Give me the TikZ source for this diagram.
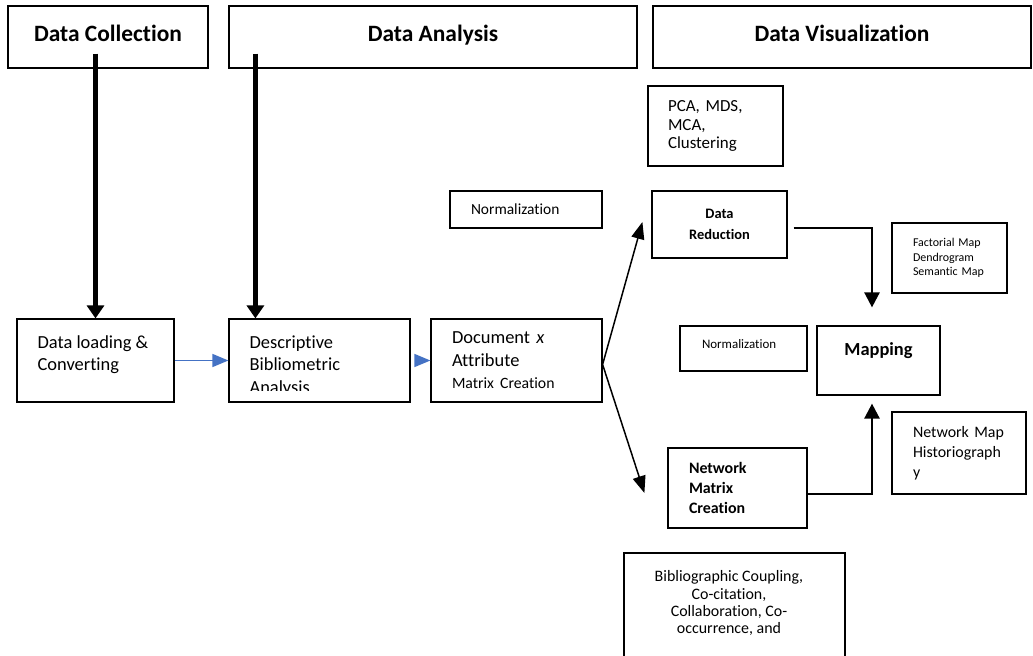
\documentclass[tikz,border=0pt]{standalone}
\usepackage{fontspec}
\setmainfont{Carlito}[Ligatures={NoCommon,NoRare,NoContextual}]
\usetikzlibrary{arrows.meta}
\definecolor{wordblue}{HTML}{4472C4}
\frenchspacing

\begin{document}
\begin{tikzpicture}[x=1bp, y=-1bp,
    box/.style={draw, line width=1.2bp, inner sep=0pt},
    head/.style={box, font=\fontsize{23.5}{28}\selectfont\bfseries, minimum height=62bp, text depth=8bp},
    big/.style={font=\fontsize{18.5}{22.5}\selectfont},
    bigarrow/.style={line width=5bp, -{Triangle[width=17bp,length=13bp]}},
    bluearrow/.style={wordblue, line width=1.5bp, -{Triangle[width=13bp,length=16bp]}},
    thinarrow/.style={line width=1.5bp, -{Triangle[width=13bp,length=17bp]}},
    maparrow/.style={line width=2.5bp, -{Triangle[width=15bp,length=15bp]}}]

% page area
\useasboundingbox (0,0) rectangle (1033,656);
\clip (0,0) rectangle (1033,656);

% stage headings
\node[head, minimum width=200bp] (collect) at (108,37) {Data Collection};
\node[head, minimum width=408bp] (analysis) at (433,37) {Data Analysis};
\node[head, minimum width=378bp] (visual) at (842,37) {Data Visualization};

% collection and analysis boxes
\node[box, minimum width=157bp, minimum height=83bp] (load) at (95.5,360.5) {};
\node[big, align=left, anchor=north west, inner sep=0pt] at ([shift={(21,17)}]load.north west) {Data loading \&\\Converting};

\node[box, minimum width=181bp, minimum height=83bp] (desc) at (319.5,360.5) {};
\begin{scope}
  \clip ([shift={(1,1)}]desc.north west) rectangle ([shift={(-1,-12)}]desc.south east);
  \node[big, align=left, anchor=north west, inner sep=0pt] at ([shift={(21,17)}]desc.north west) {Descriptive\\Bibliometric\\Analysis};
\end{scope}

\node[box, big, align=left, text width=129bp, minimum width=171bp, minimum height=83bp] (doc) at (516.5,360.5) {Document \textit{x}\\Attribute\\{\fontsize{15.8}{22}\selectfont Matrix Creation}};
\node[box, font=\fontsize{15.5}{19}\selectfont, align=left, text width=110bp, minimum width=152bp, minimum height=37bp] (norma) at (526,209.5) {Normalization};

% visualization boxes
\node[box, font=\fontsize{17}{18.5}\selectfont, align=left, text width=95bp, minimum width=135bp, minimum height=80bp] (pca) at (715.5,126) {PCA, MDS,\\MCA,\\Clustering};
\node[box, font=\fontsize{14.5}{21}\selectfont\bfseries, align=center, minimum width=135bp, minimum height=67bp] (dr) at (719.5,224.5) {Data\\Reduction};
\node[box, font=\fontsize{12}{14.5}\selectfont, align=left, text width=73bp, minimum width=115bp, minimum height=70bp] (facto) at (949.5,258) {Factorial Map\\Dendrogram\\Semantic Map};
\node[box, font=\fontsize{13}{16}\selectfont, text width=83bp, minimum width=127bp, minimum height=45bp, text depth=9bp] (normb) at (743.5,348.5) {Normalization};
\node[box, font=\fontsize{18.5}{22}\selectfont\bfseries, minimum width=123bp, minimum height=69bp, text depth=22bp] (map) at (878.5,360.5) {Mapping};
\node[box, font=\fontsize{16}{20}\selectfont, align=left, text width=92bp, minimum width=134bp, minimum height=82bp] (netmap) at (959,453) {Network Map\\Historiograph\\y};
\node[box, font=\fontsize{16}{20}\selectfont\bfseries, align=left, text width=97bp, minimum width=139bp, minimum height=80bp] (nmc) at (737.5,488) {Network\\Matrix\\Creation};

\node[box, minimum width=221bp, minimum height=127bp] (biblio) at (734.5,616.5) {};
\node[font=\fontsize{16}{17.5}\selectfont, align=center, anchor=north, inner sep=0pt] at ([shift={(-5.5,18)}]biblio.north) {Bibliographic Coupling,\\Co-citation,\\Collaboration, Co-\\occurrence, and};

% heavy arrows from the headings
\coordinate (descin) at ([xshift=27bp]desc.north west);
\draw[bigarrow] ([yshift=15bp]collect.south -| load.north) -- (load.north);
\draw[bigarrow] ([yshift=15bp]analysis.south -| descin) -- (descin);

% flow
\draw[bluearrow] (load) -- (desc);
\draw[bluearrow, shorten <=5bp] (desc) -- (doc);
\draw[thinarrow] ([yshift=-4bp]doc.east) -- ([shift={(-9,-2.5)}]dr.west);
\draw[thinarrow] ([yshift=-4bp]doc.east) -- ([shift={(-23,5)}]nmc.west);
\draw[maparrow, shorten <=6bp, shorten >=18bp] ([yshift=-3.5bp]dr.east) -| ([xshift=-6.5bp]map.north);
\draw[maparrow, shorten >=8bp] ([yshift=-6bp]nmc.east) -| ([xshift=-6.5bp]map.south);
\end{tikzpicture}
\end{document}
